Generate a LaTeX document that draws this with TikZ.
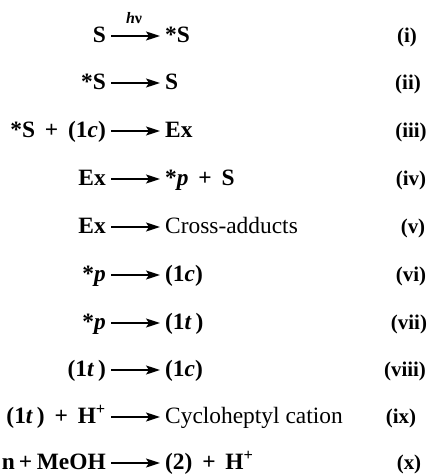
\documentclass[tikz,border=0pt]{standalone}
\usepackage{fontspec}
\setmainfont{Liberation Serif}
\usetikzlibrary{arrows.meta}
\newcommand{\plusw}{\hspace{0.42em}+\hspace{0.42em}}
\newcommand{\plusn}{\hspace{0.17em}+\hspace{0.2em}}
\begin{document}
\begin{tikzpicture}[x=1bp,y=-1bp,
  txt/.style={inner sep=0pt,font=\fontsize{23.5}{26}\selectfont\bfseries},
  lhs/.style={txt,anchor=base east},
  rhs/.style={txt,anchor=base west},
  lab/.style={inner sep=0pt,anchor=base,font=\fontsize{21}{22}\selectfont\bfseries},
  plain/.style={font=\fontsize{23.5}{26}\selectfont\mdseries},
  rxn/.style={line width=1.7bp,-{Stealth[length=14bp,width=9bp,inset=3bp]}}]
\useasboundingbox (0,0) rectangle (430,476);
\def\ax{6.5}
% rows: arrow y
\foreach \i/\y in {1/36,2/83,3/131,4/179,5/227,6/275,7/323,8/370,9/417,10/463}{
  \coordinate (s\i) at (111,\y);
  \coordinate (e\i) at (160,\y);
  \coordinate (bl\i) at (106,\y+\ax);
  \coordinate (br\i) at (165,\y+\ax);
  \draw[rxn] (s\i) -- (e\i);
}
% (i)
\node[lhs] (l1) at (bl1) {S};
\node[rhs] (r1) at (br1) {*S};
\node[inner sep=0pt,anchor=base,font=\fontsize{16}{18}\selectfont\bfseries] (hv) at (134,24) {\textit{h}ν};
\node[lab] (n1) at (407,36+\ax) {(i)};
% (ii)
\node[lhs] (l2) at (bl2) {*S};
\node[rhs] (r2) at (br2) {S};
\node[lab] (n2) at (408,83+\ax) {(ii)};
% (iii)
\node[lhs] (l3) at (bl3) {*S\plusw(1\textit{c})};
\node[rhs] (r3) at (br3) {Ex};
\node[lab] (n3) at (411,131+\ax) {(iii)};
% (iv)
\node[lhs] (l4) at (bl4) {Ex};
\node[rhs] (r4) at (br4) {*\textit{p}\plusw S};
\node[lab] (n4) at (411,179+\ax) {(iv)};
% (v)
\node[lhs] (l5) at (bl5) {Ex};
\node[rhs,plain] (r5) at (br5) {Cross-adducts};
\node[lab] (n5) at (413,227+\ax) {(v)};
% (vi)
\node[lhs] (l6) at (bl6) {*\textit{p}};
\node[rhs] (r6) at (br6) {(1\textit{c})};
\node[lab] (n6) at (411,275+\ax) {(vi)};
% (vii)
\node[lhs] (l7) at (bl7) {*\textit{p}};
\node[rhs] (r7) at (br7) {(1\textit{t}\,)};
\node[lab] (n7) at (409,323+\ax) {(vii)};
% (viii)
\node[lhs] (l8) at (bl8) {(1\textit{t}\,)};
\node[rhs] (r8) at (br8) {(1\textit{c})};
\node[lab] (n8) at (405,370+\ax) {(viii)};
% (ix)
\node[lhs] (l9) at (bl9) {(1\textit{t}\,)\plusw H\textsuperscript{+}};
\node[rhs,plain] (r9) at (br9) {Cycloheptyl cation};
\node[lab] (n9) at (401,417+\ax) {(ix)};
% (x)
\node[lhs] (l10) at (bl10) {n\plusn MeOH};
\node[rhs] (r10) at (br10) {(2)\plusw H\textsuperscript{+}};
\node[lab] (n10) at (409,463+\ax) {(x)};
\end{tikzpicture}
\end{document}
